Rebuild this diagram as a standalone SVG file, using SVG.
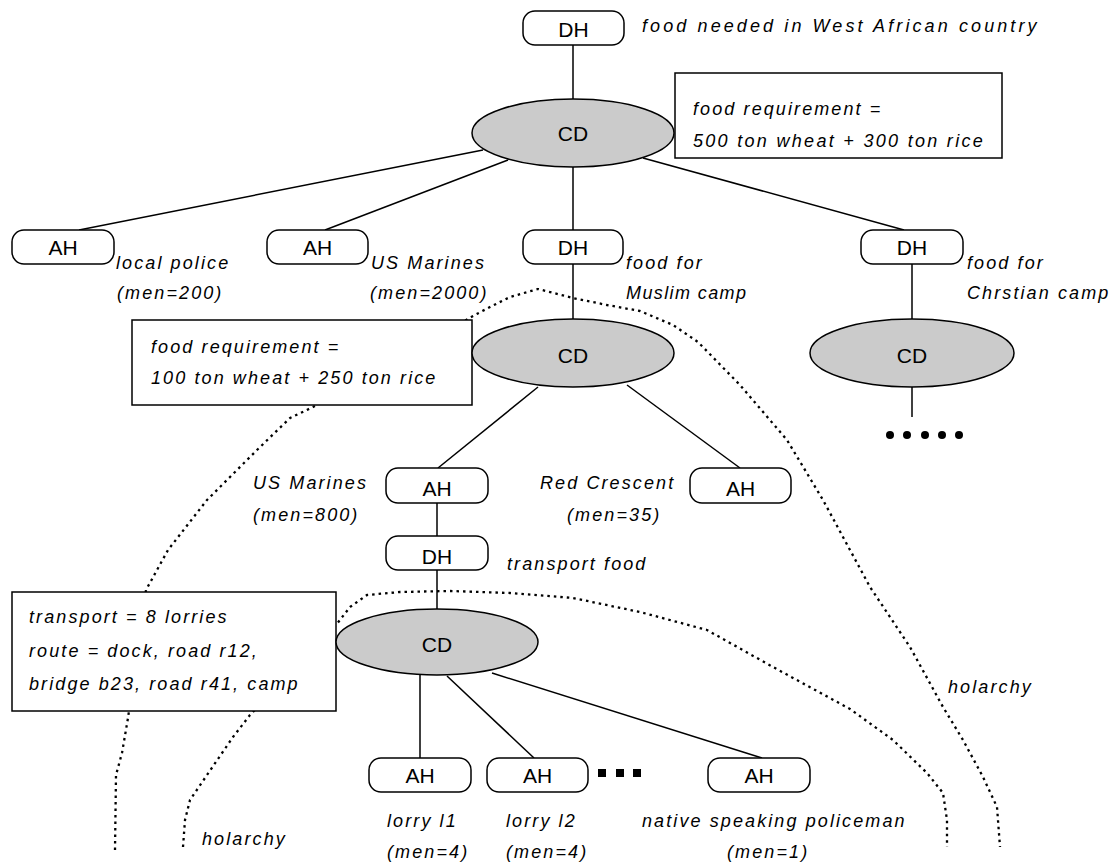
<svg xmlns="http://www.w3.org/2000/svg" width="1113" height="864" viewBox="0 0 1113 864">
<style>
 .node rect{fill:#fff;stroke:#000;stroke-width:1.5}
 .node ellipse{fill:#cbcbcb;stroke:#000;stroke-width:1.5}
 .nt{font-family:"Liberation Sans",Arial,sans-serif;font-size:21px;text-anchor:middle;fill:#000}
 .lb{font-family:"Liberation Sans",Arial,sans-serif;font-size:18px;font-style:italic;letter-spacing:2.1px;fill:#000}
 .box rect{fill:#fff;stroke:#000;stroke-width:1.5}
 .conn line{stroke:#000;stroke-width:1.5}
 .holarchy path{fill:none;stroke:#000;stroke-width:2.3;stroke-dasharray:2.5 4;stroke-linejoin:round}
</style>
<rect x="0" y="0" width="1113" height="864" fill="#fff"/>

<g id="holarchy" class="holarchy">
 <path d="M115,850 L116,775 L122,753 L128,718 L146,590 L168,550 L207,500 L257,450 L290,418 L313,407 L473,316 L490,307 L510,297 L538,289 L573,298 L607,305 L640,311 L673,325 L698,342 L740,385 L787,440 L823,500 L870,587 L910,647 L943,707 L963,740 L983,777 L997,807 L1000,847"/>
 <path d="M183,847 L185,820 L190,800 L207,775 L233,737 L250,715 L336,625 L350,607 L367,595 L400,592 L450,591 L510,593 L573,598 L640,612 L707,630 L773,667 L850,709 L893,740 L927,773 L943,793 L947,820 L947,847"/>
 <text class="lb" x="948" y="693">holarchy</text>
 <text class="lb" x="202" y="845">holarchy</text>
</g>

<g id="connectors" class="conn">
 <line x1="573" y1="45" x2="573" y2="99"/>
 <line x1="483" y1="150" x2="79" y2="230"/>
 <line x1="508" y1="160" x2="325" y2="230"/>
 <line x1="573" y1="167" x2="573" y2="230"/>
 <line x1="643" y1="158" x2="904" y2="230"/>
 <line x1="573" y1="264" x2="573" y2="319"/>
 <line x1="912" y1="264" x2="912" y2="319"/>
 <line x1="912" y1="387" x2="912" y2="417"/>
 <line x1="538" y1="387" x2="438" y2="468"/>
 <line x1="627" y1="385" x2="740" y2="468"/>
 <line x1="437" y1="503" x2="437" y2="536"/>
 <line x1="437" y1="570" x2="437" y2="609"/>
 <line x1="420" y1="675" x2="420" y2="758"/>
 <line x1="447" y1="676" x2="534" y2="758"/>
 <line x1="492" y1="673" x2="762" y2="758"/>
</g>

<g id="box-top" class="box">
 <rect x="675" y="73" width="327" height="85"/>
 <text class="lb" x="693" y="115">food requirement =</text>
 <text class="lb" x="693" y="147" style="letter-spacing:2.3px">500 ton wheat + 300 ton rice</text>
</g>
<g id="box-muslim" class="box">
 <rect x="132" y="320" width="340" height="85"/>
 <text class="lb" x="151" y="353">food requirement =</text>
 <text class="lb" x="151" y="384">100 ton wheat + 250 ton rice</text>
</g>
<g id="box-transport" class="box">
 <rect x="12" y="592" width="324" height="119"/>
 <text class="lb" x="29" y="623">transport = 8 lorries</text>
 <text class="lb" x="29" y="657">route = dock, road r12,</text>
 <text class="lb" x="29" y="690">bridge b23, road r41, camp</text>
</g>

<g id="dh-top" class="node">
 <rect x="523" y="11" width="101" height="34" rx="12"/>
 <text class="nt" x="573.5" y="36.5">DH</text>
 <text class="lb" x="642" y="32" style="letter-spacing:3.1px">food needed in West African country</text>
</g>
<g id="cd-top" class="node">
 <ellipse cx="573" cy="133" rx="101" ry="34"/>
 <text class="nt" x="573" y="141">CD</text>
</g>

<g id="ah-police" class="node">
 <rect x="12" y="230" width="102" height="34" rx="12"/>
 <text class="nt" x="63" y="255">AH</text>
 <text class="lb" x="116" y="269">local police</text>
 <text class="lb" x="117" y="299">(men=200)</text>
</g>
<g id="ah-marines" class="node">
 <rect x="267" y="230" width="101" height="34" rx="12"/>
 <text class="nt" x="317.5" y="255">AH</text>
 <text class="lb" x="371" y="269">US Marines</text>
 <text class="lb" x="370" y="299">(men=2000)</text>
</g>
<g id="dh-muslim" class="node">
 <rect x="523" y="230" width="100" height="34" rx="12"/>
 <text class="nt" x="573" y="255">DH</text>
 <text class="lb" x="626" y="269">food for</text>
 <text class="lb" x="626" y="299" style="letter-spacing:1.4px">Muslim camp</text>
</g>
<g id="dh-christian" class="node">
 <rect x="861" y="230" width="102" height="34" rx="12"/>
 <text class="nt" x="912" y="255">DH</text>
 <text class="lb" x="967" y="269">food for</text>
 <text class="lb" x="967" y="299">Chrstian camp</text>
</g>

<g id="cd-muslim" class="node">
 <ellipse cx="573" cy="353" rx="101" ry="34"/>
 <text class="nt" x="573" y="363">CD</text>
</g>
<g id="cd-christian" class="node">
 <ellipse cx="912" cy="353" rx="102" ry="34"/>
 <text class="nt" x="912" y="363">CD</text>
</g>
<g id="more-christian">
 <circle cx="890" cy="435" r="4"/>
 <circle cx="907" cy="435" r="4"/>
 <circle cx="925" cy="435" r="4"/>
 <circle cx="942" cy="435" r="4"/>
 <circle cx="959" cy="435" r="4"/>
</g>

<g id="ah-marines800" class="node">
 <rect x="386" y="468" width="102" height="35" rx="12"/>
 <text class="nt" x="437" y="496">AH</text>
 <text class="lb" x="253" y="489">US Marines</text>
 <text class="lb" x="253" y="521">(men=800)</text>
</g>
<g id="ah-redcrescent" class="node">
 <rect x="690" y="468" width="101" height="35" rx="12"/>
 <text class="nt" x="740.5" y="496">AH</text>
 <text class="lb" x="540" y="489">Red Crescent</text>
 <text class="lb" x="567" y="521">(men=35)</text>
</g>
<g id="dh-transport" class="node">
 <rect x="386" y="536" width="102" height="34" rx="12"/>
 <text class="nt" x="437" y="563.5">DH</text>
 <text class="lb" x="507" y="570">transport food</text>
</g>
<g id="cd-transport" class="node">
 <ellipse cx="437" cy="642" rx="101" ry="33"/>
 <text class="nt" x="437" y="652">CD</text>
</g>

<g id="ah-lorry1" class="node">
 <rect x="369" y="758" width="102" height="34" rx="12"/>
 <text class="nt" x="420" y="783">AH</text>
 <text class="lb" x="387" y="827">lorry l1</text>
 <text class="lb" x="387" y="858">(men=4)</text>
</g>
<g id="ah-lorry2" class="node">
 <rect x="487" y="758" width="101" height="34" rx="12"/>
 <text class="nt" x="537.5" y="783">AH</text>
 <text class="lb" x="506" y="827">lorry l2</text>
 <text class="lb" x="506" y="858">(men=4)</text>
</g>
<g id="more-lorries">
 <rect x="598" y="769" width="8" height="8"/>
 <rect x="616" y="769" width="8" height="8"/>
 <rect x="633" y="769" width="8" height="8"/>
</g>
<g id="ah-policeman" class="node">
 <rect x="708" y="758" width="102" height="34" rx="12"/>
 <text class="nt" x="759" y="783">AH</text>
 <text class="lb" x="642" y="827">native speaking policeman</text>
 <text class="lb" x="727" y="858">(men=1)</text>
</g>
</svg>
